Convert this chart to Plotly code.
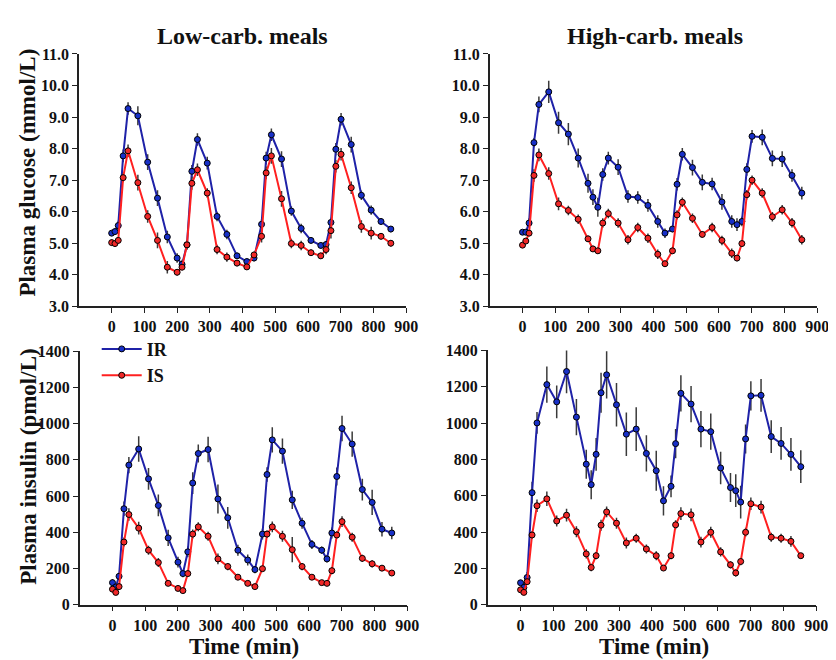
import plotly.graph_objects as go

# ---------------- data ----------------
time_min = [0, 10, 20, 35, 50, 80, 110, 140, 170, 200, 215, 230, 245, 262, 292, 322, 352, 383, 413,
            435, 458, 472, 488, 519, 549, 579, 609, 639, 655, 670, 685, 701, 732, 763, 793, 823, 853]

# Low-carb glucose (mmol/L)
lc_glu_ir = [5.32, 5.37, 5.56, 7.77, 9.27, 9.04, 7.57, 6.43, 5.20, 4.53, 4.33, 4.95, 7.28, 8.29, 7.54,
             5.85, 5.28, 4.60, 4.42, 4.53, 5.60, 7.70, 8.44, 7.67, 6.02, 5.47, 5.09, 4.93, 4.96, 5.66,
             7.98, 8.93, 8.13, 6.52, 6.05, 5.69, 5.45]
lc_glu_is = [5.02, 4.99, 5.09, 7.08, 7.93, 6.92, 5.85, 5.09, 4.24, 4.08, 4.24, 4.95, 6.90, 7.33, 6.59,
             4.80, 4.56, 4.37, 4.25, 4.63, 5.22, 7.23, 7.77, 6.41, 4.99, 4.93, 4.70, 4.60, 4.80, 5.40,
             7.44, 7.82, 6.76, 5.53, 5.32, 5.22, 5.00]
lc_glu_ir_err = [0.08, 0.1, 0.15, 0.2, 0.2, 0.3, 0.25, 0.25, 0.2, 0.15, 0.15, 0.15, 0.2, 0.2, 0.2, 0.15,
                 0.15, 0.1, 0.1, 0.1, 0.15, 0.2, 0.2, 0.25, 0.15, 0.15, 0.1, 0.1, 0.1, 0.15, 0.2, 0.2,
                 0.25, 0.15, 0.15, 0.1, 0.1]
lc_glu_is_err = [0.1, 0.1, 0.1, 0.15, 0.2, 0.25, 0.2, 0.25, 0.2, 0.1, 0.1, 0.15, 0.2, 0.2, 0.15, 0.15,
                 0.15, 0.1, 0.1, 0.1, 0.2, 0.2, 0.25, 0.25, 0.15, 0.15, 0.1, 0.1, 0.15, 0.25, 0.2, 0.2,
                 0.2, 0.2, 0.2, 0.1, 0.1]

# High-carb glucose (mmol/L)
hc_glu_ir = [5.35, 5.35, 5.64, 8.19, 9.40, 9.80, 8.82, 8.46, 7.70, 6.90, 6.46, 6.14, 7.18, 7.70, 7.41,
             6.48, 6.45, 6.20, 5.69, 5.32, 5.45, 6.87, 7.82, 7.40, 6.93, 6.88, 6.31, 5.69, 5.59, 5.69,
             7.34, 8.39, 8.36, 7.69, 7.67, 7.15, 6.59]
hc_glu_is = [4.94, 5.07, 5.32, 7.15, 7.80, 7.21, 6.25, 6.04, 5.76, 5.14, 4.82, 4.76, 5.64, 5.94, 5.64,
             5.11, 5.50, 5.16, 4.65, 4.35, 4.76, 5.90, 6.30, 5.79, 5.28, 5.50, 5.09, 4.68, 4.53, 4.99,
             6.54, 7.00, 6.59, 5.84, 6.06, 5.65, 5.11]
hc_glu_ir_err = [0.05, 0.05, 0.15, 0.15, 0.25, 0.35, 0.35, 0.35, 0.3, 0.3, 0.25, 0.3, 0.2, 0.2, 0.25,
                 0.2, 0.2, 0.2, 0.2, 0.15, 0.1, 0.2, 0.2, 0.25, 0.25, 0.2, 0.25, 0.2, 0.2, 0.15, 0.2,
                 0.2, 0.25, 0.25, 0.25, 0.2, 0.2]
hc_glu_is_err = [0.08, 0.08, 0.1, 0.2, 0.2, 0.2, 0.2, 0.15, 0.15, 0.1, 0.1, 0.1, 0.15, 0.15, 0.15, 0.15,
                 0.15, 0.15, 0.15, 0.1, 0.1, 0.15, 0.15, 0.15, 0.1, 0.15, 0.15, 0.15, 0.1, 0.1, 0.15,
                 0.15, 0.15, 0.15, 0.15, 0.15, 0.15]

# Low-carb insulin (pmol/L)
lc_ins_ir = [122, 98, 157, 530, 771, 860, 695, 548, 369, 235, 172, 292, 672, 835, 857, 584, 480, 301, 247,
             194, 390, 719, 910, 848, 579, 450, 333, 301, 253, 396, 708, 973, 887, 636, 565, 417, 396]
lc_ins_is = [86, 68, 100, 346, 498, 423, 301, 233, 118, 90, 78, 172, 390, 430, 378, 253, 211, 152, 118,
             100, 199, 390, 430, 378, 304, 211, 152, 122, 118, 188, 385, 459, 373, 256, 226, 202, 175]
lc_ins_ir_err = [20, 15, 20, 40, 45, 70, 60, 60, 45, 30, 20, 30, 60, 50, 70, 80, 60, 30, 30, 20, 30, 40,
                 70, 70, 50, 30, 25, 20, 20, 30, 50, 70, 70, 60, 70, 40, 35]
lc_ins_is_err = [15, 10, 15, 25, 35, 35, 25, 25, 15, 10, 10, 15, 25, 25, 25, 30, 20, 15, 10, 10, 15, 20,
                 30, 30, 70, 20, 10, 10, 10, 20, 20, 30, 25, 20, 20, 15, 15]

# High-carb insulin (pmol/L)
hc_ins_ir = [121, 95, 150, 617, 1001, 1212, 1117, 1284, 1033, 774, 661, 828, 1167, 1266, 1101, 939, 967,
             833, 738, 572, 652, 887, 1164, 1105, 967, 953, 753, 645, 628, 565, 913, 1150, 1153, 926,
             888, 828, 760]
hc_ins_is = [82, 68, 127, 384, 545, 583, 461, 493, 402, 280, 205, 270, 438, 511, 449, 340, 366, 307, 270,
             202, 270, 440, 502, 495, 345, 399, 291, 220, 175, 238, 399, 556, 538, 372, 366, 349, 270]
hc_ins_ir_err = [15, 20, 30, 60, 60, 100, 90, 120, 100, 80, 80, 90, 110, 130, 120, 120, 120, 100, 110,
                 80, 60, 80, 100, 100, 100, 100, 90, 80, 90, 90, 80, 80, 90, 90, 90, 90, 90]
hc_ins_is_err = [15, 10, 15, 20, 35, 40, 30, 35, 30, 25, 20, 20, 30, 30, 30, 30, 25, 25, 25, 15, 20, 25,
                 35, 35, 30, 30, 25, 20, 20, 20, 25, 35, 35, 25, 25, 30, 15]

x_ticks = [0, 100, 200, 300, 400, 500, 600, 700, 800, 900]
glu_ticks = [3.0, 4.0, 5.0, 6.0, 7.0, 8.0, 9.0, 10.0, 11.0]
ins_ticks = [0, 200, 400, 600, 800, 1000, 1200, 1400]

# ---------------- style ----------------
W, H = 836, 660
SERIF = "Liberation Serif"
BLUE = "#1f22a8"
BLUE_M = "#1830c8"
RED = "#ff2020"
RED_M = "#f02828"
ERR = "#3a3a3a"

fig = go.Figure()

def add_pair(xa, ya, ir, ir_err, is_, is_err, show):
    for name, y, e, lc, mc in [("IR", ir, ir_err, BLUE, BLUE_M), ("IS", is_, is_err, RED, RED_M)]:
        fig.add_trace(go.Scatter(
            x=time_min, y=y, xaxis=xa, yaxis=ya, name=name, mode="lines+markers",
            line=dict(color=lc, width=2),
            marker=dict(color=mc, size=6, line=dict(color="black", width=1)),
            error_y=dict(type="data", array=e, visible=True, color=ERR, thickness=1.5, width=0),
            showlegend=show, legendgroup=name,
        ))

add_pair("x", "y", lc_glu_ir, lc_glu_ir_err, lc_glu_is, lc_glu_is_err, False)
add_pair("x2", "y2", hc_glu_ir, hc_glu_ir_err, hc_glu_is, hc_glu_is_err, False)
add_pair("x3", "y3", lc_ins_ir, lc_ins_ir_err, lc_ins_is, lc_ins_is_err, True)
add_pair("x4", "y4", hc_ins_ir, hc_ins_ir_err, hc_ins_is, hc_ins_is_err, False)

def px_x(a, b):
    return [a / W, b / W]

def px_y(top, bottom):
    return [(H - bottom) / H, (H - top) / H]

tickfont = dict(family=SERIF, size=16, color="#111", weight="bold")

def xaxis(dom, anchor):
    return dict(domain=dom, anchor=anchor, range=[-100, 900], tickvals=x_ticks,
                showline=True, linecolor="#222", linewidth=1.5, ticks="outside",
                ticklen=5, tickwidth=1.2, tickcolor="#222", showgrid=False, zeroline=False,
                tickfont=tickfont)

def yaxis(dom, anchor, rng, tv, fmt):
    return dict(domain=dom, anchor=anchor, range=rng, tickvals=tv, tickformat=fmt,
                showline=True, linecolor="#222", linewidth=1.5, ticks="outside",
                ticklen=5, tickwidth=1.2, tickcolor="#222", showgrid=False, zeroline=False,
                tickfont=tickfont)

fig.update_layout(
    width=W, height=H, margin=dict(l=0, r=0, t=0, b=0),
    plot_bgcolor="white", paper_bgcolor="white",
    xaxis=xaxis(px_x(72, 404), "y"),
    yaxis=yaxis(px_y(39, 298), "x", [3.0, 11.0], glu_ticks, ".1f"),
    xaxis2=xaxis(px_x(488.8, 821), "y2"),
    yaxis2=yaxis(px_y(39, 298), "x2", [3.0, 11.0], glu_ticks, ".1f"),
    xaxis3=xaxis(px_x(72.8, 405), "y3"),
    yaxis3=yaxis(px_y(344, 604.3), "x3", [0, 1400], ins_ticks, "d"),
    xaxis4=xaxis(px_x(486.7, 820), "y4"),
    yaxis4=yaxis(px_y(343.3, 604.3), "x4", [0, 1400], ins_ticks, "d"),
    legend=dict(x=90 / W, y=(H - 323) / H, xanchor="left", yanchor="top",
                bgcolor="rgba(0,0,0,0)", tracegroupgap=0, itemwidth=40,
                font=dict(family=SERIF, size=18, color="#111", weight="bold")),
    showlegend=True,
)

def ann(text, x, y, size, angle=0):
    fig.add_annotation(text=text, x=x / W, y=(H - y) / H, xref="paper", yref="paper",
                       showarrow=False, textangle=angle, xanchor="center", yanchor="middle",
                       font=dict(family=SERIF, size=size, color="#111", weight="bold"))

ann("Low-carb. meals", 238, 21, 24)
ann("High-carb. meals", 656, 21, 24)
ann("Plasma glucose (mmol/L)", 20, 161, 23, -90)
ann("Plasma insulin (pmol/L)", 20, 463, 23, -90)
ann("Time (min)", 239, 647, 23)
ann("Time (min)", 655, 647, 23)

fig.write_html("out.html")
